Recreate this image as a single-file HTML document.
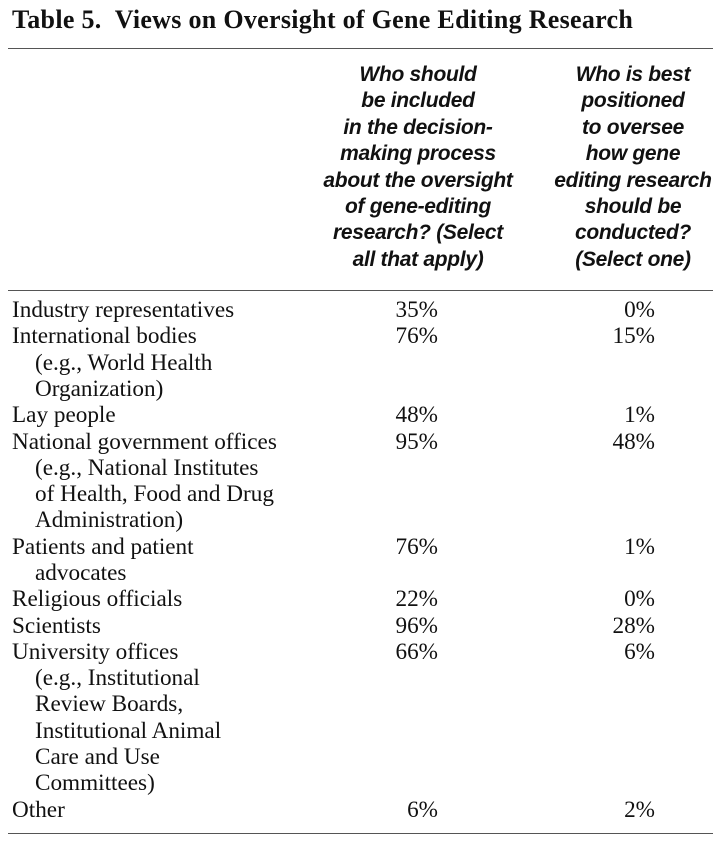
<!DOCTYPE html>
<html><head><meta charset="utf-8"><style>
body{margin:0;width:726px;height:850px;background:#fff;position:relative;overflow:hidden;color:#111}
.t{position:absolute;left:12px;top:5px;font:bold 26px "Liberation Serif",serif;letter-spacing:0.3px;white-space:nowrap}
.rule{position:absolute;left:8px;width:705px;height:1px;background:#555}
.h{position:absolute;font:italic bold 21px "Liberation Sans",sans-serif;letter-spacing:-0.3px;text-align:center;line-height:26.4px;white-space:nowrap}
.r{position:absolute;font:23.2px "Liberation Serif",serif;line-height:26.3px;white-space:nowrap}
.lab{left:12px}
.v{text-align:right;width:80px}
</style></head><body>
<div class="t">Table 5.&nbsp; Views on Oversight of Gene Editing Research</div>
<div class="rule" style="top:48px"></div>
<div class="h" style="left:308px;width:220px;top:62px">Who should<br>be included<br>in the decision-<br>making process<br>about the oversight<br>of gene-editing<br>research? (Select<br>all that apply)</div>
<div class="h" style="left:543px;width:180px;top:62px">Who is best<br>positioned<br>to oversee<br>how gene<br>editing research<br>should be<br>conducted?<br>(Select one)</div>
<div class="rule" style="top:290px"></div>
<div id="rows"></div>
<div class="rule" style="top:833px"></div>
<script>
const labels=[["Industry representatives"],["International bodies","(e.g., World Health","Organization)"],["Lay people"],["National government offices","(e.g., National Institutes","of Health, Food and Drug","Administration)"],["Patients and patient","advocates"],["Religious officials"],["Scientists"],["University offices","(e.g., Institutional","Review Boards,","Institutional Animal","Care and Use","Committees)"],["Other"]];
const included=[35,76,48,95,76,22,96,66,6];
const best=[0,15,1,48,1,0,28,6,2];
const root=document.getElementById('rows');
let y0=297;
const lh=26.3;
labels.forEach((ls,i)=>{
  const d=document.createElement('div');d.className='r lab';d.style.top=y0+'px';
  
  
  d.innerHTML=ls.map((s,j)=>j?'<span style="padding-left:23px">'+s+'</span>':s).join('<br>');
  root.appendChild(d);
  const a=document.createElement('div');a.className='r v';a.style.top=y0+'px';a.style.left='358px';a.textContent=included[i]+'%';
  
  
  root.appendChild(a);
  const b=document.createElement('div');b.className='r v';b.style.top=y0+'px';b.style.left='575px';b.textContent=best[i]+'%';
  
  
  root.appendChild(b);
  y0+=ls.length*lh;
});
</script>
</body></html>
